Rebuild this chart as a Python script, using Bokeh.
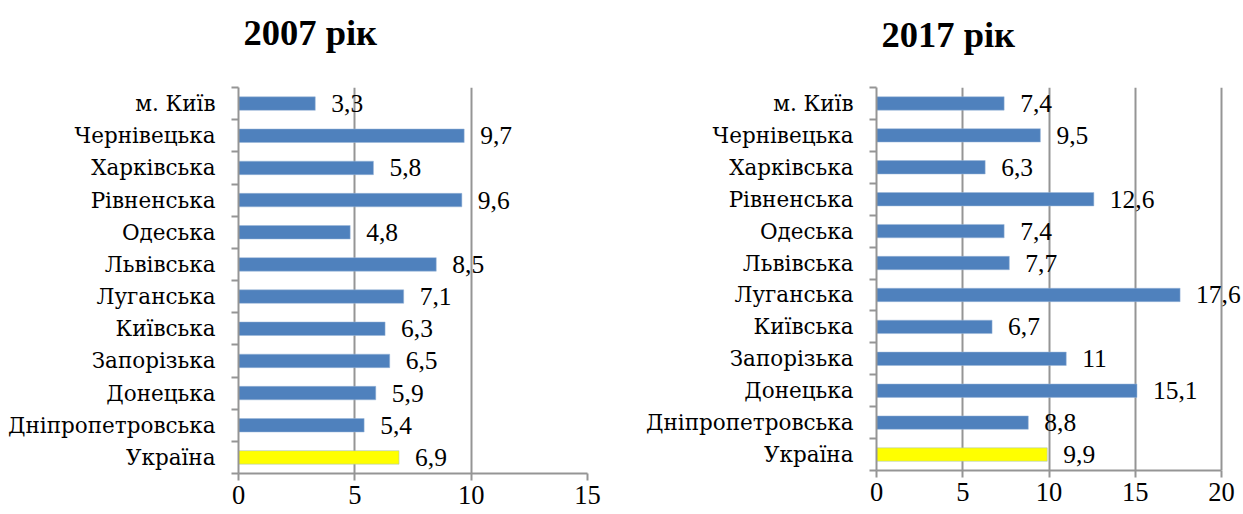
from bokeh.plotting import figure
from bokeh.models import Range1d, FixedTicker, ColumnDataSource, LabelSet, Title
from bokeh.core.properties import value
from bokeh.layouts import row
from bokeh.embed import file_html
from bokeh.resources import INLINE

regions = ["м. Київ", "Чернівецька", "Харківська", "Рівненська", "Одеська",
           "Львівська", "Луганська", "Київська", "Запорізька", "Донецька",
           "Дніпропетровська", "Україна"]
values_2007 = [3.3, 9.7, 5.8, 9.6, 4.8, 8.5, 7.1, 6.3, 6.5, 5.9, 5.4, 6.9]
values_2017 = [7.4, 9.5, 6.3, 12.6, 7.4, 7.7, 17.6, 6.7, 11, 15.1, 8.8, 9.9]
ticks_2007 = [0, 5, 10, 15]
ticks_2017 = [0, 5, 10, 15, 20]

BLUE = "#4F81BD"
YELLOW = "#FFFF00"
GRAY = "#959595"
FONT = "Liberation Serif"
YFONT = "DejaVu Serif"


def make_chart(title, vals, xticks, xmax, frame_w, frame_h, bl, bt, br, bb,
               spacer_px, t_offset):
    n = len(regions)
    ypos = [n - 1 - i for i in range(n)]
    colors = [YELLOW if r == "Україна" else BLUE for r in regions]
    labels = [f"{v:g}".replace(".", ",") for v in vals]
    src = ColumnDataSource(dict(y=ypos, v=vals, c=colors, lab=labels))

    p = figure(frame_width=frame_w, frame_height=frame_h,
               x_range=Range1d(0, xmax), y_range=Range1d(-0.5, n - 0.5),
               output_backend="svg", toolbar_location=None, title_location=None,
               min_border_left=bl, min_border_top=bt, min_border_right=br,
               min_border_bottom=bb)
    p.outline_line_color = None
    p.background_fill_color = "white"

    # blank spacer title between frame and the real title
    p.add_layout(Title(text=" ", text_font=FONT,
                       text_font_size=f"{spacer_px}px", standoff=0), "above")
    p.add_layout(Title(text=title, text_font=FONT, text_font_size="36.5px",
                       text_font_style="bold", text_color="black", align="left",
                       offset=t_offset, standoff=0, vertical_align="top"), "above")

    p.hbar(y="y", left=0, right="v", height=0.42, fill_color="c",
           line_color="#9BB7D9", line_width=0.5, source=src)

    ls = LabelSet(x="v", y="y", text="lab", source=src, x_offset=16,
                  text_align="left", text_baseline="middle",
                  text_font=value(FONT), text_font_size=value("25.5px"),
                  text_font_style=value("normal"), text_color="black")
    p.add_layout(ls)

    ya = p.yaxis[0]
    ya.ticker = FixedTicker(ticks=ypos, minor_ticks=[i - 0.5 for i in range(n + 1)])
    ya.major_label_overrides = {y: r for y, r in zip(ypos, regions)}
    ya.major_tick_out = 0
    ya.major_tick_in = 0
    ya.minor_tick_out = 7
    ya.minor_tick_in = 0
    ya.minor_tick_line_color = GRAY
    ya.minor_tick_line_width = 2
    ya.axis_line_color = GRAY
    ya.axis_line_width = 2
    ya.major_label_standoff = 16
    ya.major_label_text_font = YFONT
    ya.major_label_text_font_size = "21.5px"
    ya.major_label_text_color = "black"

    xa = p.below[0]
    xa.ticker = FixedTicker(ticks=xticks)
    xa.bounds = (0, xticks[-1])
    xa.major_tick_out = 7
    xa.major_tick_in = 0
    xa.major_tick_line_color = GRAY
    xa.major_tick_line_width = 2
    xa.minor_tick_line_color = None
    xa.axis_line_color = GRAY
    xa.axis_line_width = 2
    xa.major_label_standoff = 5
    xa.major_label_text_font = FONT
    xa.major_label_text_font_size = "26.5px"
    xa.major_label_text_color = "black"

    p.xgrid.ticker = FixedTicker(ticks=xticks)
    p.xgrid.grid_line_color = GRAY
    p.xgrid.grid_line_width = 2
    p.ygrid.grid_line_color = None
    return p


p1 = make_chart("2007 рік", values_2007, ticks_2007, 15, 349, 386, 238, 84, 41, 44,
                28.5, 5)
p2 = make_chart("2017 рік", values_2017, ticks_2017, 20 * 367 / 345, 367, 383, 248, 87, 0, 44,
                26, 5)

layout = row(p1, p2)
open("out.html", "w").write(file_html(layout, INLINE))
